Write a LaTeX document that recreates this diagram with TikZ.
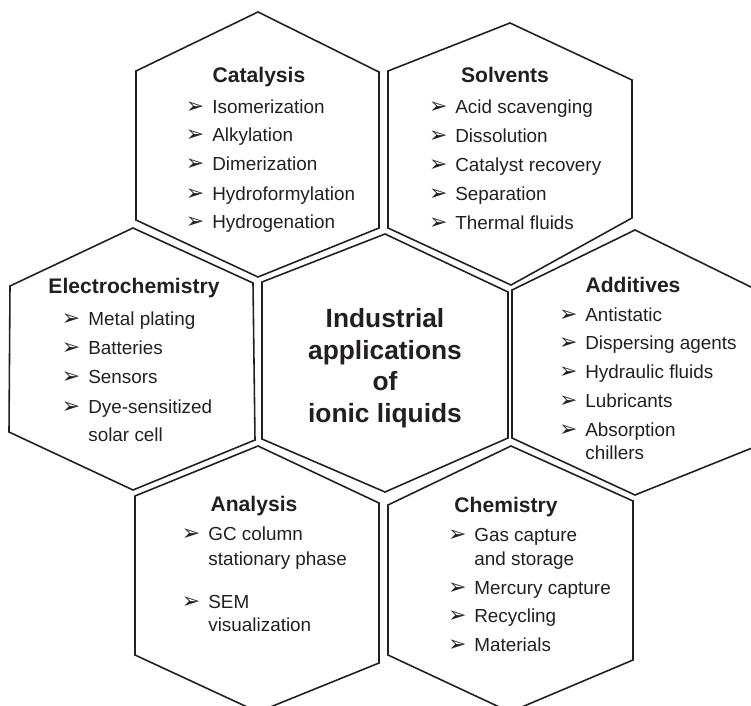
\documentclass[tikz,border=0pt]{standalone}
\usepackage{fontspec}
\setmainfont{Liberation Sans}
\newfontfamily\symfont{DejaVu Sans}
\usepackage{xcolor}
\usepackage{tikz}
\definecolor{inkgray}{HTML}{231F20}
\newcommand{\arr}{\llap{\makebox[15pt][l]{\symfont\fontsize{12.5}{12}\selectfont ➢}}}

\begin{document}
\begin{tikzpicture}[x=0.02cm,y=-0.02cm,
    hexcell/.style={draw=inkgray,line width=0.9pt,line join=miter},
    head/.style={font=\fontsize{12}{14}\selectfont\bfseries,text=inkgray,anchor=base,inner sep=0pt},
    entry/.style={font=\fontsize{10.75}{13}\selectfont,text=inkgray,anchor=base west,inner sep=0pt},
    hub/.style={font=\fontsize{15}{18}\selectfont\bfseries,text=inkgray,align=center,inner sep=0pt}]
  \useasboundingbox (0,0) rectangle (751,706);
  \clip (0,0) rectangle (751,706);
  % honeycomb
  \draw[hexcell] (258,12) -- (379,72) -- (379,228) -- (258,277) -- (136,220) -- (136,71) -- cycle;
  \draw[hexcell] (510,23) -- (632,80) -- (632,218) -- (511,285) -- (388,228) -- (388,71) -- cycle;
  \draw[hexcell] (133,228) -- (253,283) -- (255,440) -- (133,490) -- (9,432) -- (10,286) -- cycle;
  \draw[hexcell] (385,234) -- (508,292) -- (508,438) -- (385,492) -- (262,439) -- (262,282) -- cycle;
  \draw[hexcell] (635,230) -- (757,290) -- (757,446) -- (635,495) -- (512,438) -- (512,290) -- cycle;
  \draw[hexcell] (258,446) -- (379,503) -- (379,663) -- (258,712) -- (135,655) -- (135,496) -- cycle;
  \draw[hexcell] (511,446) -- (633,501) -- (633,660) -- (510,712) -- (388,655) -- (388,505) -- cycle;
  % centre
  \node[hub] (hub) at (385,368) {Industrial\\applications\\of\\ionic liquids};
  % Catalysis
  \node[head] (cat) at (259,83) {Catalysis};
  \node[entry] (cat1) at (212,113) {\arr Isomerization};
  \node[entry] (cat2) at (212,142) {\arr Alkylation};
  \node[entry] (cat3) at (212,171) {\arr Dimerization};
  \node[entry] (cat4) at (212,200) {\arr Hydroformylation};
  \node[entry] (cat5) at (212,229) {\arr Hydrogenation};
  % Solvents
  \node[head] (sol) at (505,83) {Solvents};
  \node[entry] (sol1) at (455,114) {\arr Acid scavenging};
  \node[entry] (sol2) at (455,143) {\arr Dissolution};
  \node[entry] (sol3) at (455,172) {\arr Catalyst recovery};
  \node[entry] (sol4) at (455,200) {\arr Separation};
  \node[entry] (sol5) at (455,230) {\arr Thermal fluids};
  % Electrochemistry
  \node[head] (ele) at (134,293) {Electrochemistry};
  \node[entry] (ele1) at (88,325) {\arr Metal plating};
  \node[entry] (ele2) at (88,354) {\arr Batteries};
  \node[entry] (ele3) at (88,383) {\arr Sensors};
  \node[entry] (ele4) at (88,413) {\arr Dye-sensitized};
  \node[entry] (ele4b) at (88,441) {solar cell};
  % Additives
  \node[head] (add) at (633,292) {Additives};
  \node[entry] (add1) at (585,321) {\arr Antistatic};
  \node[entry] (add2) at (585,349) {\arr Dispersing agents};
  \node[entry] (add3) at (585,378) {\arr Hydraulic fluids};
  \node[entry] (add4) at (585,407) {\arr Lubricants};
  \node[entry] (add5) at (585,436) {\arr Absorption};
  \node[entry] (add5b) at (585,459) {chillers};
  % Analysis
  \node[head] (ana) at (254,511) {Analysis};
  \node[entry] (ana1) at (208,540) {\arr GC column};
  \node[entry] (ana1b) at (208,565) {stationary phase};
  \node[entry] (ana2) at (208,608) {\arr SEM};
  \node[entry] (ana2b) at (208,631) {visualization};
  % Chemistry
  \node[head] (che) at (506,512) {Chemistry};
  \node[entry] (che1) at (474,541) {\arr Gas capture};
  \node[entry] (che1b) at (474,565) {and storage};
  \node[entry] (che2) at (474,594) {\arr Mercury capture};
  \node[entry] (che3) at (474,622) {\arr Recycling};
  \node[entry] (che4) at (474,651) {\arr Materials};
\end{tikzpicture}
\end{document}
